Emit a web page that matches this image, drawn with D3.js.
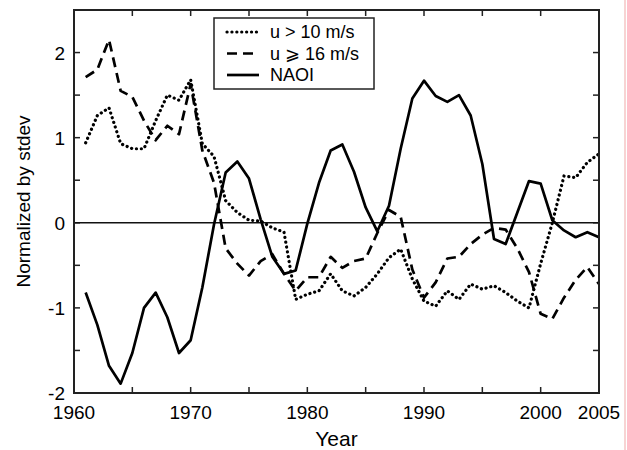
<!DOCTYPE html>
<html>
<head>
<meta charset="utf-8">
<script src="https://cdn.jsdelivr.net/npm/d3@7"></script>
<style>
  body { margin: 0; background: #fff; }
  svg { display: block; font-family: "Liberation Sans", Arial, sans-serif; }
</style>
</head>
<body>
<svg id="chart" width="627" height="450"></svg>
<script>
const years = d3.range(1961, 2006);

// u > 10 m/s
const u10 = [0.94, 1.26, 1.35, 0.93, 0.87, 0.87, 1.2, 1.5, 1.44, 1.68,
  0.93, 0.78, 0.26, 0.12, 0.03, 0.02, -0.06, -0.11, -0.9, -0.84,
  -0.8, -0.6, -0.8, -0.86, -0.76, -0.6, -0.41, -0.31, -0.66, -0.92,
  -0.98, -0.8, -0.9, -0.72, -0.78, -0.74, -0.82, -0.92, -1.0, -0.48,
  0.0, 0.55, 0.53, 0.71, 0.81];

// u >= 16 m/s
const u16 = [1.71, 1.8, 2.15, 1.55, 1.48, 1.2, 0.97, 1.14, 1.04, 1.63,
  0.85, 0.47, -0.3, -0.48, -0.62, -0.45, -0.37, -0.6, -0.8, -0.64,
  -0.64, -0.4, -0.53, -0.45, -0.42, -0.12, 0.15, 0.07, -0.55, -0.88,
  -0.7, -0.42, -0.4, -0.25, -0.14, -0.06, -0.08, -0.3, -0.58, -1.07,
  -1.13, -0.88, -0.67, -0.52, -0.72];

// NAO index
const naoi = [-0.82, -1.2, -1.68, -1.89, -1.53, -1.0, -0.82, -1.11, -1.53, -1.38,
  -0.76, -0.02, 0.59, 0.72, 0.52, 0.04, -0.4, -0.6, -0.56, -0.01,
  0.47, 0.85, 0.92, 0.6, 0.18, -0.1, 0.2, 0.87, 1.46, 1.67,
  1.49, 1.42, 1.5, 1.26, 0.69, -0.19, -0.25, 0.12, 0.49, 0.46,
  0.03, -0.09, -0.17, -0.11, -0.17];

const xTickLabels = [1960, 1970, 1980, 1990, 2000, 2005];
const yTickLabels = [-2, -1, 0, 1, 2];
const legendLabels = ['u > 10 m/s', 'u \u2A7E 16 m/s', 'NAOI'];

const series = [
  { name: legendLabels[0], values: u10, dash: '0.1 4.8', cap: 'round', w: 3.2 },
  { name: legendLabels[1], values: u16, dash: '10 6', cap: 'butt', w: 2.7 },
  { name: legendLabels[2], values: naoi, dash: null, cap: 'butt', w: 2.7 },
];

const margin = { left: 74, right: 28, top: 10, bottom: 57 };
const W = 627, H = 450;
const svg = d3.select('#chart');

const x = d3.scaleLinear().domain([1960, 2005]).range([margin.left, W - margin.right]);
const y = d3.scaleLinear().domain([-2, 2.5]).range([H - margin.bottom, margin.top]);

// pink page edge on the right
svg.append('line')
  .attr('x1', 625).attr('x2', 625).attr('y1', 0).attr('y2', H)
  .attr('stroke', '#f6c4c4').attr('stroke-width', 1.5);

const xTicks = d3.range(1960, 2006, 5);
const yTicks = d3.range(-2, 2.51, 0.5);
const tl = 6;

// tick marks inside the frame on all four sides
const tg = svg.append('g').attr('stroke', '#222').attr('stroke-width', 1.5);
xTicks.forEach((t) => {
  tg.append('line').attr('x1', x(t)).attr('x2', x(t)).attr('y1', y(-2)).attr('y2', y(-2) - tl);
  tg.append('line').attr('x1', x(t)).attr('x2', x(t)).attr('y1', y(2.5)).attr('y2', y(2.5) + tl);
});
yTicks.forEach((t) => {
  tg.append('line').attr('x1', x(1960)).attr('x2', x(1960) + tl).attr('y1', y(t)).attr('y2', y(t));
  tg.append('line').attr('x1', x(2005)).attr('x2', x(2005) - tl).attr('y1', y(t)).attr('y2', y(t));
});

// zero line
svg.append('line')
  .attr('x1', x(1960)).attr('x2', x(2005)).attr('y1', y(0)).attr('y2', y(0))
  .attr('stroke', '#111').attr('stroke-width', 1.6);

const line = d3.line().x((d, i) => x(years[i])).y((d) => y(d));

svg.append('g').selectAll('path')
  .data(series)
  .join('path')
  .attr('d', (d) => line(d.values))
  .attr('fill', 'none')
  .attr('stroke', '#000')
  .attr('stroke-width', (d) => d.w)
  .attr('stroke-linejoin', 'round')
  .attr('stroke-linecap', (d) => d.cap)
  .attr('stroke-dasharray', (d) => d.dash);

// frame
svg.append('rect')
  .attr('x', x(1960)).attr('y', y(2.5))
  .attr('width', x(2005) - x(1960)).attr('height', y(-2) - y(2.5))
  .attr('fill', 'none').attr('stroke', '#222').attr('stroke-width', 2);

// tick labels
svg.append('g').selectAll('text')
  .data(xTickLabels)
  .join('text')
  .attr('x', (d) => x(d))
  .attr('y', y(-2) + 26)
  .attr('text-anchor', 'middle')
  .attr('font-size', 19)
  .text((d) => d);

svg.append('g').selectAll('text')
  .data(yTickLabels)
  .join('text')
  .attr('x', x(1960) - 9)
  .attr('y', (d) => y(d) + 7)
  .attr('text-anchor', 'end')
  .attr('font-size', 19)
  .text((d) => d);

// axis titles
svg.append('text')
  .attr('x', (x(1960) + x(2005)) / 2)
  .attr('y', 446)
  .attr('text-anchor', 'middle')
  .attr('font-size', 21)
  .text('Year');

svg.append('text')
  .attr('transform', `translate(30, ${y(0.25)}) rotate(-90)`)
  .attr('text-anchor', 'middle')
  .attr('font-size', 19)
  .text('Normalized by stdev');

// legend
const lg = svg.append('g');
lg.append('rect')
  .attr('x', 214).attr('y', 18).attr('width', 160).attr('height', 71)
  .attr('fill', '#fff').attr('stroke', '#222').attr('stroke-width', 1.5);
series.forEach((s, i) => {
  const ly = 32 + i * 21.5;
  lg.append('line')
    .attr('x1', 227).attr('x2', 259).attr('y1', ly).attr('y2', ly)
    .attr('stroke', '#000').attr('stroke-width', s.w)
    .attr('stroke-linecap', s.cap)
    .attr('stroke-dasharray', s.dash);
  lg.append('text')
    .attr('x', 270).attr('y', ly + 6)
    .attr('font-size', 18)
    .text(s.name);
});
</script>
</body>
</html>
